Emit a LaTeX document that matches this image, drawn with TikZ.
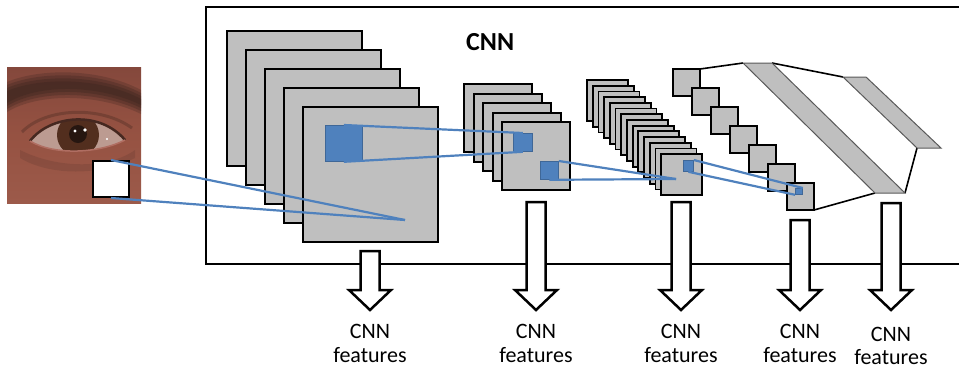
\documentclass[tikz,border=0pt]{standalone}
\usepackage{fontspec}
\setmainfont{Carlito}
\definecolor{sqgray}{RGB}{191,191,191}
\definecolor{cnnblue}{RGB}{79,129,189}
\definecolor{skin}{RGB}{150,82,66}
\definecolor{skintop}{RGB}{132,72,60}
\definecolor{skinbot}{RGB}{156,90,74}
\definecolor{brow}{RGB}{58,36,30}
\definecolor{sclera}{RGB}{188,155,145}
\definecolor{iris}{RGB}{82,46,30}
\definecolor{pupil}{RGB}{38,22,16}
\definecolor{lid}{RGB}{70,40,32}
\definecolor{lowlid}{RGB}{176,110,98}
\newcommand\featarrow[2]{%
  \draw[fatarrow] ({#1-9.5},#2) -- ({#1+9.5},#2) -- ({#1+9.5},290) -- ({#1+21},290)
    -- (#1,310) -- ({#1-21},290) -- ({#1-9.5},290) -- cycle;}
\begin{document}
\begin{tikzpicture}[x=1pt,y=-1pt,
  sq/.style={fill=sqgray,draw=black,line width=2pt},
  bluesq/.style={fill=cnnblue,draw=cnnblue!80!black,line width=0.8pt,inner sep=0pt,anchor=north west},
  link/.style={draw=cnnblue,line width=2.2pt},
  fc/.style={fill=sqgray,draw=gray!70!black,line width=1pt},
  edgeline/.style={draw=black,line width=1.6pt},
  fatarrow/.style={fill=white,draw=black,line width=2.5pt,line join=miter},
  lbl/.style={font=\fontsize{22}{26}\selectfont,inner sep=0pt,anchor=base},
  ttl/.style={font=\bfseries\fontsize{26}{30}\selectfont,inner sep=0pt,anchor=base west}
]
\useasboundingbox (0,0) rectangle (959,368);
% ---- eye photo ----
\shade[top color=skintop,bottom color=skinbot,middle color=skin] (7,67) rectangle (141,203);
\foreach \d/\o in {0/0.25,3/0.3,6/0.35,9/0.35} {
  \fill[brow,opacity=\o] (7,{82+\d}) .. controls (40,{68+\d}) and (100,{68+\d}) .. (141,{90+\d})
    -- (141,{114-\d}) .. controls (100,{94-\d}) and (40,{92-\d}) .. (7,{112-\d}) -- cycle;
}
\draw[lid,opacity=0.35,line width=3pt] (22,132) .. controls (45,108) and (100,105) .. (132,128);
\fill[brow,opacity=0.15] (20,150) .. controls (60,170) and (110,168) .. (135,150) -- (135,158) .. controls (100,176) and (50,176) .. (20,158) -- cycle;
\fill[sclera] (30,141) .. controls (50,115) and (100,110) .. (125,140) .. controls (100,153) and (55,156) .. (30,141) -- cycle;
\begin{scope}
  \clip (30,141) .. controls (50,115) and (100,110) .. (125,140) .. controls (100,153) and (55,156) .. (30,141) -- cycle;
  \fill[iris] (78,135) circle (21);
  \fill[pupil] (78,134) circle (9);
\end{scope}
\draw[lid,line width=2.5pt] (30,141) .. controls (50,115) and (100,110) .. (125,140);
\draw[lowlid,line width=1.5pt] (125,140) .. controls (100,153) and (55,156) .. (30,141);
\fill[white] (75,131) circle (1.6) (85,130) circle (1.8) (107,139) circle (1.2);
% ---- frame ----
\draw[line width=2.5pt] (962,7) -- (206,7) -- (206,264) -- (962,264);
\node[ttl] (title) at (466,50) {CNN};
% ---- stacks ----
\foreach \i in {0,...,4} \draw[sq] ({227+19*\i},{31+19*\i}) rectangle ++(135,135);
\foreach \i in {0,...,4} \draw[sq] ({464+9.5*\i},{84+9.5*\i}) rectangle ++(68,68);
\foreach \i in {0,...,13} \draw[sq,line width=1.8pt] ({587+5.7*\i},{80+5.7*\i}) rectangle ++(41,41);
\foreach \i in {0,...,6} \draw[sq] ({673+19*\i},{69+19*\i}) rectangle ++(27,27);
\coordinate (s4a) at (700,69);
\coordinate (s4b) at (814,210);
% ---- fully connected layers ----
\coordinate (f1a) at (743,63); \coordinate (f1b) at (772,63);
\coordinate (f1c) at (905,193); \coordinate (f1d) at (875,193);
\coordinate (f2a) at (843,77); \coordinate (f2b) at (866,77);
\coordinate (f2c) at (941,148); \coordinate (f2d) at (917,148);
\draw[edgeline] (s4a) -- (f1a);
\draw[edgeline] (f1b) -- (f2a);
\draw[edgeline] (f2d) -- (f1c);
\draw[edgeline] (f1d) -- (s4b);
\draw[fc] (f1a) -- (f1b) -- (f1c) -- (f1d) -- cycle;
\draw[fc] (f2a) -- (f2b) -- (f2c) -- (f2d) -- cycle;
% ---- receptive fields ----
\node[draw=black,fill=white,line width=2pt,minimum width=36pt,minimum height=36pt,inner sep=0pt,anchor=north west] (win) at (92,160) {};
\node[bluesq,minimum width=37pt,minimum height=36pt] (b1) at (325,125) {};
\node[bluesq,minimum width=19pt,minimum height=18pt] (b2) at (513,133) {};
\node[bluesq,minimum width=18pt,minimum height=18pt] (b3) at (540,161) {};
\node[bluesq,minimum width=10pt,minimum height=11pt] (b4) at (683,160) {};
\node[bluesq,minimum width=7pt,minimum height=6pt] (b5) at (795,188) {};
\coordinate (p1) at (405,220);
\coordinate (p2) at (676,179);
\draw[link] (win.north) -- (p1);
\draw[link] (win.south) -- (p1);
\draw[link] (b1.north) -- (b2.north);
\draw[link] (b1.south) -- (b2.south);
\draw[link] (b3.north east) -- (p2);
\draw[link] (b3.south) -- (p2);
\draw[link] (b4.north east) -- (b5.north east);
\draw[link] (b4.south) -- (b5.south west);
% ---- output arrows ----
\featarrow{370}{251}
\featarrow{536}{202}
\featarrow{681}{202}
\featarrow{800}{220}
\featarrow{891}{203}
% ---- labels ----
\node[lbl] (c1) at (370,338) {CNN};
\node[lbl] (e1) at (370,362) {features};
\node[lbl] (c2) at (536,338) {CNN};
\node[lbl] (e2) at (536,362) {features};
\node[lbl] (c3) at (681,338) {CNN};
\node[lbl] (e3) at (681,362) {features};
\node[lbl] (c4) at (800,338) {CNN};
\node[lbl] (e4) at (800,362) {features};
\node[lbl] (c5) at (891,341) {CNN};
\node[lbl] (e5) at (891,364) {features};
\end{tikzpicture}
\end{document}
